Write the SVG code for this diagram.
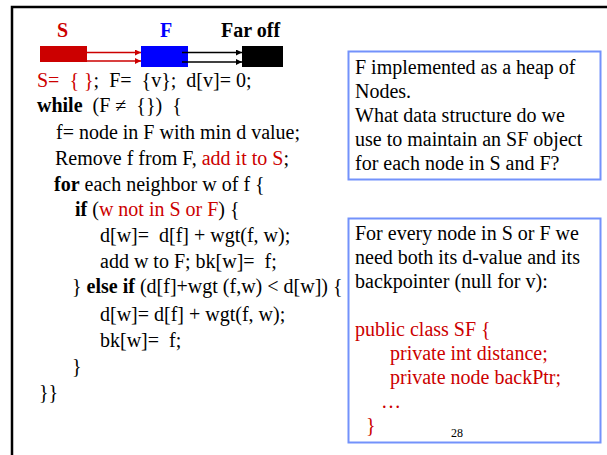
<svg xmlns="http://www.w3.org/2000/svg" width="607" height="455" viewBox="0 0 607 455">
  <style>
    .t { font-family: "Liberation Serif", "Times New Roman", serif; font-size: 20px; fill: #000; white-space: pre; }
    .b { font-weight: bold; }
    .red { fill: #cc0000; }
    .blue { fill: #0000ff; }
    .note { fill: #fff; stroke: #7392fb; stroke-width: 2; }
    .arrR { stroke: #cc0000; stroke-width: 1.5; fill: none; marker-end: url(#headR); }
    .arrK { stroke: #000; stroke-width: 1.5; fill: none; marker-end: url(#headK); }
  </style>
  <defs>
    <marker id="headR" viewBox="0 0 10 10" refX="10" refY="5" markerWidth="4" markerHeight="4" orient="auto" markerUnits="strokeWidth">
      <path d="M0,0 L10,5 L0,10 z" fill="#cc0000"/>
    </marker>
    <marker id="headK" viewBox="0 0 10 10" refX="10" refY="5" markerWidth="4" markerHeight="4" orient="auto" markerUnits="strokeWidth">
      <path d="M0,0 L10,5 L0,10 z" fill="#000"/>
    </marker>
  </defs>

  <rect x="0" y="0" width="607" height="455" fill="#fff"/>
  <!-- slide frame, open past the right and bottom edges -->
  <path d="M12,455 V7 H607" fill="none" stroke="#000" stroke-width="2.5"/>

  <!-- sets: settled, frontier, far off -->
  <g id="node-S">
    <rect x="40" y="46" width="47" height="16" fill="#cc0000"/>
    <text class="t b red" x="57" y="37">S</text>
  </g>
  <g id="node-F">
    <rect x="141" y="46" width="47" height="21" fill="#0000ff"/>
    <text class="t b blue" x="160" y="37">F</text>
  </g>
  <g id="node-far">
    <rect x="242" y="46" width="41" height="21" fill="#000"/>
    <text class="t b" x="221" y="37">Far off</text>
  </g>

  <g id="connectors">
    <line class="arrR" x1="87" y1="52.5" x2="141" y2="52.5"/>
    <line class="arrR" x1="87" y1="61" x2="141" y2="61"/>
    <line class="arrK" x1="182" y1="52.5" x2="242" y2="52.5"/>
    <line class="arrK" x1="182" y1="62" x2="242" y2="62"/>
  </g>

  <!-- algorithm pseudocode -->
  <g id="code">
    <text class="t" x="37" y="87"><tspan class="red">S=  { }</tspan>;  F=  {v};  d[v]= 0;</text>
    <text class="t" x="37" y="112"><tspan class="b">while</tspan>  (F ≠  {})  {</text>
    <text class="t" x="56" y="139">f= node in F with min d value;</text>
    <text class="t" x="55" y="165">Remove f from F, <tspan class="red">add it to S</tspan>;</text>
    <text class="t" x="54" y="191"><tspan class="b">for</tspan> each neighbor w of f {</text>
    <text class="t" x="75" y="216"><tspan class="b">if</tspan> (<tspan class="red">w not in S or F</tspan>) {</text>
    <text class="t" x="100" y="242">d[w]=  d[f] + wgt(f, w);</text>
    <text class="t" x="100" y="268">add w to F; bk[w]=  f;</text>
    <text class="t" x="72" y="293">} <tspan class="b">else if</tspan> (d[f]+wgt (f,w) &lt; d[w]) {</text>
    <text class="t" x="100" y="321">d[w]= d[f] + wgt(f, w);</text>
    <text class="t" x="100" y="347">bk[w]=  f;</text>
    <text class="t" x="72" y="373">}</text>
    <text class="t" x="39" y="399">}}</text>
  </g>

  <!-- note: heap of nodes -->
  <g id="note-heap">
    <rect class="note" x="348.5" y="51.5" width="252" height="128"/>
    <text class="t" x="355" y="74">F implemented as a heap of</text>
    <text class="t" x="355" y="98">Nodes.</text>
    <text class="t" x="355" y="122">What data structure do we</text>
    <text class="t" x="355" y="146">use to maintain an SF object</text>
    <text class="t" x="355" y="170">for each node in S and F?</text>
  </g>

  <!-- note: SF class -->
  <g id="note-sf">
    <rect class="note" x="348.5" y="218.5" width="252" height="224"/>
    <text class="t" x="355" y="240">For every node in S or F we</text>
    <text class="t" x="355" y="264">need both its d-value and its</text>
    <text class="t" x="355" y="288">backpointer (null for v):</text>
    <text class="t red" x="355" y="336">public class SF {</text>
    <text class="t red" x="390" y="360">private int distance;</text>
    <text class="t red" x="390" y="384">private node backPtr;</text>
    <text class="t red" x="381" y="408">…</text>
    <text class="t red" x="366" y="432">}</text>
    <text class="t" x="451" y="437" style="font-size:12px">28</text>
  </g>
</svg>
